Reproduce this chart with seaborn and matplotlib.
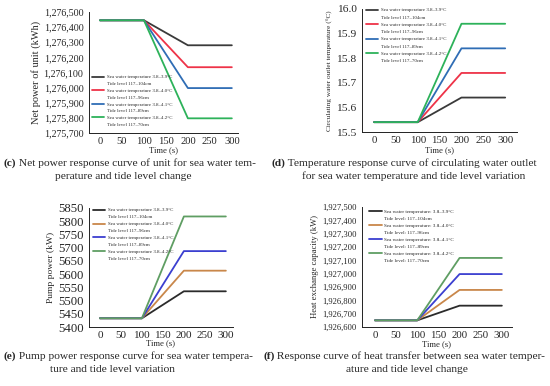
import numpy as np
import pandas as pd
import matplotlib
matplotlib.use("Agg")
import matplotlib.pyplot as plt
from matplotlib.lines import Line2D
from matplotlib.ticker import StrMethodFormatter, MultipleLocator
import seaborn as sns

# ==================================================
# DATA
# ==================================================
time_s = [0, 100, 200, 300]

temp_ranges = ["3.8–3.9°C", "3.8–4.0°C", "3.8–4.1°C", "3.8–4.2°C"]
tide_ranges = ["117–104cm", "117–96cm", "117–89cm", "117–70cm"]

# (c) net power of unit (kWh)
net_power = [
    [1276445, 1276445, 1276280, 1276280],
    [1276445, 1276445, 1276135, 1276135],
    [1276445, 1276445, 1275997, 1275997],
    [1276445, 1276445, 1275797, 1275797],
]
# (d) circulating water outlet temperature (°C)
outlet_temp = [
    [15.54, 15.54, 15.64, 15.64],
    [15.54, 15.54, 15.74, 15.74],
    [15.54, 15.54, 15.84, 15.84],
    [15.54, 15.54, 15.94, 15.94],
]
# (e) pump power (kW)
pump_power = [
    [5433, 5433, 5535, 5535],
    [5433, 5433, 5613, 5613],
    [5433, 5433, 5687, 5687],
    [5433, 5433, 5818, 5818],
]
# (f) heat exchange capacity (kW)
heat_exchange = [
    [1926650, 1926650, 1926760, 1926760],
    [1926650, 1926650, 1926878, 1926878],
    [1926650, 1926650, 1926997, 1926997],
    [1926650, 1926650, 1927118, 1927118],
]

colors_top = ["#3a3a3a", "#ee3348", "#2f6db5", "#2db25a"]
colors_bot = ["#2b2b2b", "#c9874a", "#3b3fd0", "#5f9e63"]

captions = {
    "c": ("Net power response curve of unit for sea water tem-",
          "perature and tide level change"),
    "d": ("Temperature response curve of circulating water outlet",
          "for sea water temperature and tide level variation"),
    "e": ("Pump power response curve for sea water tempera-",
          "ture and tide level variation"),
    "f": ("Response curve of heat transfer between sea water temper-",
          "ature and tide level change"),
}

# ==================================================
# FIGURE
# ==================================================
sns.set_style("white")
plt.rcParams["font.family"] = ["Liberation Serif", "DejaVu Serif"]

W, H = 550, 386
fig = plt.figure(figsize=(W / 100, H / 100), dpi=100)


def px_axes(left, top, right, bottom):
    return fig.add_axes([left / W, 1 - bottom / H, (right - left) / W,
                         (bottom - top) / H])


def draw_panel(ax, values, colors, ylim, xlim, ylabel, yfmt, ytick,
               xtick_fs, ytick_fs, ylab_fs, xlab_pad, leg_xy, leg_fs,
               leg_space, colon=False):
    rows = []
    for i, series in enumerate(values):
        for t, v in zip(time_s, series):
            rows.append({"Time": t, "Value": v, "Case": i})
    df = pd.DataFrame(rows)
    sns.lineplot(data=df, x="Time", y="Value", hue="Case", palette=colors,
                 ax=ax, linewidth=1.3, legend=True)
    ax.set_xlim(*xlim)
    ax.set_ylim(*ylim)
    ax.set_xticks([0, 50, 100, 150, 200, 250, 300])
    ax.xaxis.set_minor_locator(MultipleLocator(25))
    ax.yaxis.set_major_locator(MultipleLocator(ytick))
    ax.yaxis.set_major_formatter(StrMethodFormatter(yfmt))
    ax.tick_params(axis="x", which="both", direction="in", length=2,
                   width=0.6, labelsize=xtick_fs, pad=3)
    ax.tick_params(axis="x", which="minor", length=1.2)
    ax.tick_params(axis="y", direction="out", length=2.5, width=0.6,
                   labelsize=ytick_fs, pad=1.5)
    for side in ["top", "right"]:
        ax.spines[side].set_visible(False)
    for side in ["left", "bottom"]:
        ax.spines[side].set_linewidth(0.7)
        ax.spines[side].set_color("#222222")
    ax.set_xlabel("Time (s)", fontsize=6.2, labelpad=xlab_pad)
    ax.set_ylabel(ylabel, fontsize=ylab_fs, labelpad=2)

    # two text rows per case: line handle + blank handle
    lines, _ = ax.get_legend_handles_labels()
    ax.get_legend().remove()
    sep = ": " if colon else " "
    handles, labels = [], []
    for i in range(4):
        handles += [lines[i], Line2D([], [], color="none")]
        labels += [f"Sea water temperature{sep}{temp_ranges[i]}",
                   f"Tide level{sep}{tide_ranges[i]}"]
    ax.legend(handles, labels, loc="upper left",
              bbox_to_anchor=(leg_xy[0] / W, 1 - leg_xy[1] / H),
              bbox_transform=fig.transFigure, frameon=False,
              fontsize=leg_fs, borderpad=0, borderaxespad=0,
              handlelength=2.5, handletextpad=0.5, labelspacing=leg_space)


ax_c = px_axes(89, 12, 238, 133)
draw_panel(ax_c, net_power, colors_top, (1275700, 1276500), (-25, 314),
           "Net power of unit (kWh)", "{x:,.0f}", 100, 7.6, 7.2, 7.5, 0,
           (92, 75), 3.5, 0.49)

ax_d = px_axes(362, 9, 517, 132)
draw_panel(ax_d, outlet_temp, colors_top, (15.5, 16.0), (-27.5, 327),
           "Circulating water outlet temperature (°C)", "{x:.1f}", 0.1,
           7.8, 8.2, 5.2, 0.6, (366, 8), 3.5, 0.59)

ax_e = px_axes(89, 208, 233, 327)
draw_panel(ax_e, pump_power, colors_bot, (5400, 5850), (-26, 317),
           "Pump power (kW)", "{x:.0f}", 50, 8.0, 9.2, 6.8, -0.6,
           (93, 208), 3.5, 0.52)

ax_f = px_axes(362, 207, 512, 327)
draw_panel(ax_f, heat_exchange, colors_bot, (1926600, 1927500), (-30.7, 324),
           "Heat exchange capacity (kW)", "{x:,.0f}", 100, 7.8, 6.2, 6.2, 0,
           (369, 209), 3.7, 0.47, colon=True)

# ==================================================
# CAPTIONS
# ==================================================
cap_fs = 8.2
cap_pos = {
    "c": ((3, 163), (123, 176)),
    "d": ((271, 163), (414, 176)),
    "e": ((4, 356), (112, 369)),
    "f": ((263, 356), (407, 369)),
}
fig.canvas.draw()
for key, (l1, l2) in cap_pos.items():
    first, second = captions[key]
    t = fig.text(l1[0] / W, 1 - l1[1] / H, f"({key})", fontsize=cap_fs,
                 fontweight="bold", va="center", ha="left")
    bb = t.get_window_extent(renderer=fig.canvas.get_renderer())
    fig.text(bb.x1 / W, 1 - l1[1] / H, " " + first, fontsize=cap_fs,
             va="center", ha="left")
    fig.text(l2[0] / W, 1 - l2[1] / H, second, fontsize=cap_fs,
             va="center", ha="center")

fig.savefig("out.png", dpi=100)
